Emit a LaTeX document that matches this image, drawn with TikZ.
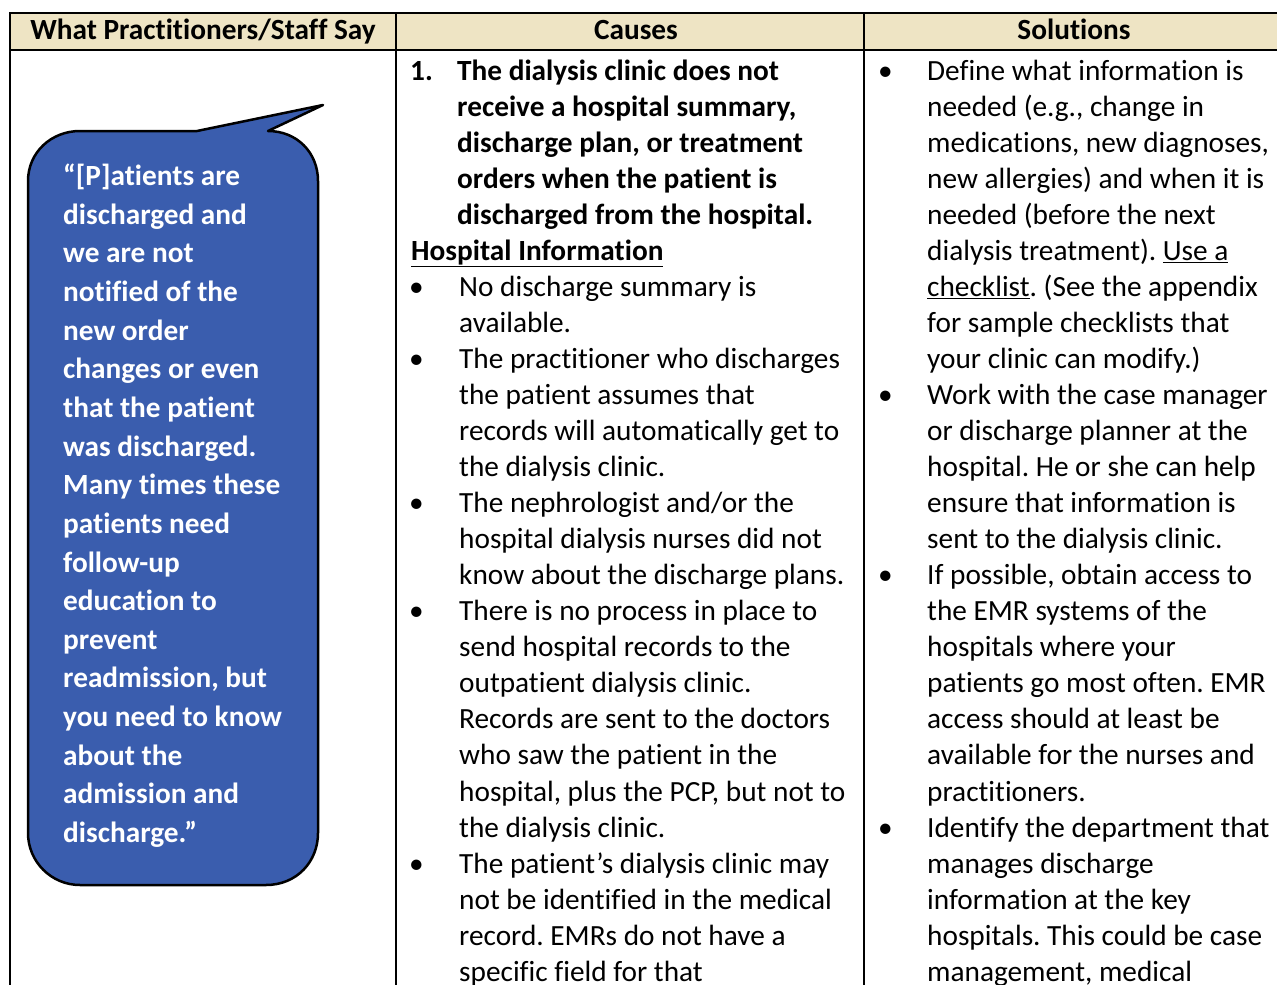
\documentclass[tikz,border=0pt]{standalone}
\usepackage{fontspec}
\setmainfont{Carlito}[Ligatures=NoCommon]
\definecolor{hdrfill}{HTML}{EEE4C4}
\definecolor{bubblefill}{HTML}{3A5DAE}
\newcommand\bodyfs{\fontsize{29.3}{36}\selectfont}
\frenchspacing
\begin{document}
\begin{tikzpicture}[x=1pt,y=-1pt,
  txt/.style={anchor=base west,inner sep=0pt,font=\bodyfs},
  btxt/.style={anchor=base west,inner sep=0pt,font=\bodyfs\bfseries},
  wtxt/.style={anchor=base west,inner sep=0pt,font=\bodyfs\bfseries,text=white},
  htxt/.style={anchor=base,inner sep=0pt,font=\bodyfs\bfseries},
  tbl/.style={line width=2pt,line cap=rect},
  bubblestyle/.style={fill=bubblefill,draw=black,line width=2.5pt,line join=round}]
\useasboundingbox (0,0) rectangle (1277,985);
% header
\fill[hdrfill] (10,13) rectangle (1277,50);
\draw[tbl] (10,985) -- (10,13) -- (1277,13);
\draw[tbl] (10,50) -- (1277,50);
\draw[tbl] (396,13) -- (396,985);
\draw[tbl] (864,13) -- (864,985);
\node[htxt] (h1) at (203,39.5) {What Practitioners/Staff Say};
\node[htxt] (h2) at (636,39.5) {Causes};
\node[htxt] (h3) at (1074,39.5) {Solutions};
% callout
\draw[bubblestyle] (197,131) -- (323,105) -- (268,131)
  .. controls (296.7,131) and (318,152.3) .. (318,181)
  -- (318,833) .. controls (318,861.7) and (296.7,885) .. (266,885)
  -- (80,885) .. controls (51.3,885) and (28,861.7) .. (28,833)
  -- (28,181) .. controls (28,152.3) and (51.3,131) .. (80,131) -- cycle;
\foreach \t [count=\i from 0] in {{“[P]atients are},{discharged and},{we are not},{notified of the},{new order},{changes or even},{that the patient},{was discharged.},{Many times these},{patients need},{follow-up},{education to},{prevent},{readmission, but},{you need to know},{about the},{admission and},{discharge.”}}
  \node[wtxt] (q\i) at (63,{185.5+38.65*\i}) {\t};
% causes column
\node[btxt] (num1) at (410,80) {1.};
\foreach \t [count=\i from 0] in {{The dialysis clinic does not},{receive a hospital summary,},{discharge plan, or treatment},{orders when the patient is},{discharged from the hospital.}}
  \node[btxt] (ch\i) at (457,{80+36.05*\i}) {\t};
\node[btxt] (hosp) at (411,{80+36.05*5}) {\underline{Hospital Information}};
\foreach \t [count=\i from 6] in {{No discharge summary is},{available.},{The practitioner who discharges},{the patient assumes that},{records will automatically get to},{the dialysis clinic.},{The nephrologist and/or the},{hospital dialysis nurses did not},{know about the discharge plans.},{There is no process in place to},{send hospital records to the},{outpatient dialysis clinic.},{Records are sent to the doctors},{who saw the patient in the},{hospital, plus the PCP, but not to},{the dialysis clinic.},{The patient’s dialysis clinic may},{not be identified in the medical},{record. EMRs do not have a},{specific field for that}}
  \node[txt] (c\i) at (459,{80+36.05*\i}) {\t};
\foreach \i in {6,8,12,15,22}
  \node[txt] (cb\i) at (409,{80+36.05*\i}) {•};
% solutions column
\foreach \t [count=\i from 0] in {{Define what information is},{needed (e.g., change in},{medications, new diagnoses,},{new allergies) and when it is},{needed (before the next},{dialysis treatment). \underline{Use a}},{\underline{checklist}. (See the appendix},{for sample checklists that},{your clinic can modify.)},{Work with the case manager},{or discharge planner at the},{hospital. He or she can help},{ensure that information is},{sent to the dialysis clinic.},{If possible, obtain access to},{the EMR systems of the},{hospitals where your},{patients go most often. EMR},{access should at least be},{available for the nurses and},{practitioners.},{Identify the department that},{manages discharge},{information at the key},{hospitals. This could be case},{management, medical}}
  \node[txt] (s\i) at (927,{80+36.05*\i}) {\t};
\foreach \i in {0,9,14,21}
  \node[txt] (sb\i) at (878,{80+36.05*\i}) {•};
\end{tikzpicture}
\end{document}
